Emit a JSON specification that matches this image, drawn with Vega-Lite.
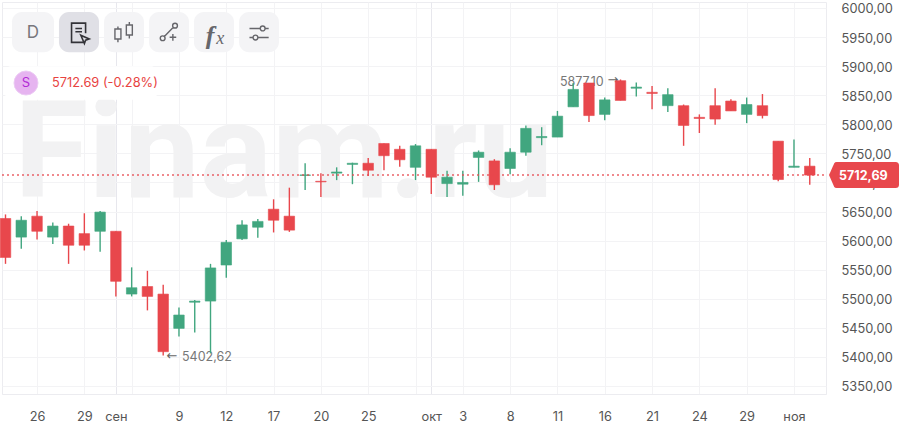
{
"$schema":"https://vega.github.io/schema/vega-lite/v6.json",
"width":824,"height":392,
"autosize":"none",
"padding":{"left":2,"top":2,"right":76,"bottom":32},
"background":"#ffffff",
"view":{"stroke":"#ececf0","strokeWidth":1},
"config":{"font":"Inter"},
"datasets":{
"candles":[
{"i":0,"open":5638,"high":5645,"low":5560,"close":5571},
{"i":1,"open":5606,"high":5642,"low":5586,"close":5635},
{"i":2,"open":5642,"high":5651,"low":5602,"close":5616},
{"i":3,"open":5606,"high":5631,"low":5594,"close":5625},
{"i":4,"open":5625,"high":5629,"low":5560,"close":5592},
{"i":5,"open":5612,"high":5647,"low":5583,"close":5592},
{"i":6,"open":5616,"high":5651,"low":5581,"close":5649},
{"i":7,"open":5616,"high":5616,"low":5504,"close":5530},
{"i":8,"open":5508,"high":5554,"low":5504,"close":5519},
{"i":9,"open":5521,"high":5548,"low":5480,"close":5504},
{"i":10,"open":5508,"high":5524,"low":5402.62,"close":5409},
{"i":11,"open":5449,"high":5485,"low":5435,"close":5472},
{"i":12,"open":5494,"high":5498,"low":5442,"close":5496},
{"i":13,"open":5496,"high":5560,"low":5406,"close":5553},
{"i":14,"open":5558,"high":5601,"low":5536,"close":5597},
{"i":15,"open":5603,"high":5635,"low":5601,"close":5627},
{"i":16,"open":5623,"high":5637,"low":5605,"close":5633},
{"i":17,"open":5654,"high":5671,"low":5614,"close":5635},
{"i":18,"open":5642,"high":5691,"low":5615,"close":5618},
{"i":19,"open":5712,"high":5733,"low":5687,"close":5713},
{"i":20,"open":5702,"high":5716,"low":5675,"close":5701},
{"i":21,"open":5716,"high":5726,"low":5704,"close":5718},
{"i":22,"open":5731,"high":5734,"low":5697,"close":5733},
{"i":23,"open":5733,"high":5742,"low":5711,"close":5721},
{"i":24,"open":5767,"high":5767,"low":5721,"close":5746},
{"i":25,"open":5757,"high":5763,"low":5727,"close":5739},
{"i":26,"open":5726,"high":5766,"low":5704,"close":5763},
{"i":27,"open":5757,"high":5757,"low":5680,"close":5709},
{"i":28,"open":5698,"high":5720,"low":5675,"close":5709},
{"i":29,"open":5697,"high":5720,"low":5677,"close":5700},
{"i":30,"open":5743,"high":5755,"low":5701,"close":5752},
{"i":31,"open":5737,"high":5740,"low":5687,"close":5696},
{"i":32,"open":5724,"high":5759,"low":5714,"close":5752},
{"i":33,"open":5752,"high":5798,"low":5746,"close":5793},
{"i":34,"open":5777,"high":5795,"low":5764,"close":5779},
{"i":35,"open":5778,"high":5823,"low":5778,"close":5814},
{"i":36,"open":5830,"high":5871,"low":5830,"close":5860},
{"i":37,"open":5871,"high":5871,"low":5804,"close":5815},
{"i":38,"open":5817,"high":5846,"low":5807,"close":5842},
{"i":39,"open":5875,"high":5877.1,"low":5841,"close":5841},
{"i":40,"open":5862,"high":5872,"low":5848,"close":5864},
{"i":41,"open":5855,"high":5866,"low":5826,"close":5853},
{"i":42,"open":5832,"high":5862,"low":5821,"close":5851},
{"i":43,"open":5832,"high":5834,"low":5763,"close":5798},
{"i":44,"open":5812,"high":5817,"low":5785,"close":5810},
{"i":45,"open":5832,"high":5862,"low":5799,"close":5809},
{"i":46,"open":5840,"high":5843,"low":5823,"close":5823},
{"i":47,"open":5817,"high":5846,"low":5802,"close":5834},
{"i":48,"open":5832,"high":5852,"low":5810,"close":5815},
{"i":49,"open":5771,"high":5771,"low":5702,"close":5705},
{"i":50,"open":5726,"high":5774,"low":5726,"close":5728},
{"i":51,"open":5728,"high":5742,"low":5696,"close":5712.69}
]},
"encoding":{
"x":{"field":"i","type":"quantitative","title":null,
"scale":{"domain":[-0.222,52.03],"nice":false,"zero":false,"padding":0},
"axis":{"values":[2,5,7,8,11,14,17,20,23,26,27,29,32,35,38,41,44,47,50],
"labelExpr":"({2:'26',5:'29',7:'сен',11:'9',14:'12',17:'17',20:'20',23:'25',27:'окт',29:'3',32:'8',35:'11',38:'16',41:'21',44:'24',47:'29',50:'ноя'})[datum.value]||''",
"grid":true,"gridColor":{"condition":{"test":"datum.value==7||datum.value==27","value":"#e7e7ed"},"value":"#f3f3f5"},
"ticks":false,"domain":true,"domainColor":"#ececf0","labelColor":"#555555","labelFontSize":12.8,"labelFont":"Inter","labelPadding":16,"labelFlush":false,"labelOverlap":false}},
"y":{"field":"price","type":"quantitative","title":null,
"scale":{"domain":[5336.2,6010.3],"nice":false,"zero":false,"padding":0},
"axis":{"orient":"right","values":[5350,5400,5450,5500,5550,5600,5650,5700,5750,5800,5850,5900,5950,6000],
"labelExpr":"replace(format(datum.value,'.2f'),'.',',')",
"grid":true,"gridColor":"#f3f3f5","ticks":false,"domain":false,"labelColor":"#555555","labelFontSize":12.8,"labelFont":"Inter","labelPadding":15,"labelOffset":1,"labelOverlap":false,"labelFlush":false}}
},
"layer":[
{"data":{"values":[{"i":0.55,"price":5675,"label":"Finam.ru"}]},
 "mark":{"type":"text","align":"left","baseline":"alphabetic","fontSize":135,"fontWeight":"bold","font":"Roboto","color":"#f2f2f3"},
 "encoding":{"text":{"field":"label"}}},
{"data":{"values":[{"i":-0.03,"i2":9.6,"price":5900,"price2":5842}]},
 "mark":{"type":"rect","color":"#ffffff","cornerRadius":6},
 "encoding":{"x2":{"field":"i2"},"y2":{"field":"price2"}}},
{"data":{"values":[
 {"i":0.41,"i2":3.08,"price":5993,"price2":5924,"b":"D"},
 {"i":6.25,"i2":8.78,"price":5993,"price2":5924,"b":"candle"},
 {"i":9.10,"i2":11.64,"price":5993,"price2":5924,"b":"draw"},
 {"i":11.95,"i2":14.49,"price":5993,"price2":5924,"b":"fx"},
 {"i":14.81,"i2":17.34,"price":5993,"price2":5924,"b":"settings"}]},
 "mark":{"type":"rect","color":"#f4f4f6","cornerRadius":10},
 "encoding":{"x2":{"field":"i2"},"y2":{"field":"price2"}}},
{"data":{"values":[{"i":3.39,"i2":5.93,"price":5993,"price2":5924,"b":"notes"}]},
 "mark":{"type":"rect","color":"#e0e0e6","cornerRadius":10},
 "encoding":{"x2":{"field":"i2"},"y2":{"field":"price2"}}},
{"data":{"values":[{"i":1.74,"price":5957,"label":"D"}]},
 "mark":{"type":"text","fontSize":17,"font":"Inter","color":"#77777c","align":"center","baseline":"middle"},
 "encoding":{"text":{"field":"label"}}},
{"data":{"values":[{"i":4.66,"price":5957}]},
 "mark":{"type":"point","filled":false,"stroke":"#333338","strokeWidth":1.6,"opacity":1,"size":576,
 "shape":"M0.35,0.78 L-0.62,0.78 L-0.62,-0.82 L0.55,-0.82 L0.55,0.02 M-0.3,-0.38 L0.25,-0.38 M-0.3,-0.1 L0.25,-0.1 M0.15,0.18 L0.85,0.5 L0.55,0.6 L0.45,0.88 Z"}},
{"data":{"values":[{"i":7.51,"price":5957}]},
 "mark":{"type":"point","filled":false,"stroke":"#66666b","strokeWidth":1.4,"opacity":1,"size":576,
 "shape":"M-0.75,-0.33 L-0.25,-0.33 L-0.25,0.5 L-0.75,0.5 Z M-0.5,-0.55 L-0.5,-0.33 M-0.5,0.5 L-0.5,0.78 M0.2,-0.67 L0.7,-0.67 L0.7,0.17 L0.2,0.17 Z M0.45,-0.92 L0.45,-0.67 M0.45,0.17 L0.45,0.45"}},
{"data":{"values":[{"i":10.37,"price":5957}]},
 "mark":{"type":"point","filled":false,"stroke":"#66666b","strokeWidth":1.4,"opacity":1,"size":576,
 "shape":"M-0.73,0.44 A0.2,0.2 0 1,1 -0.33,0.44 A0.2,0.2 0 1,1 -0.73,0.44 Z M0.3,-0.61 A0.2,0.2 0 1,1 0.7,-0.61 A0.2,0.2 0 1,1 0.3,-0.61 Z M-0.39,0.3 L0.36,-0.47 M0.05,0.36 L0.6,0.36 M0.32,0.08 L0.32,0.64"}},
{"data":{"values":[{"i":12.97,"price":5952,"label":"f"}]},
 "mark":{"type":"text","fontSize":26,"font":"Liberation Serif","fontStyle":"italic","fontWeight":"bold","color":"#66666b","align":"center","baseline":"middle"},
 "encoding":{"text":{"field":"label"}}},
{"data":{"values":[{"i":13.62,"price":5947,"label":"x"}]},
 "mark":{"type":"text","fontSize":18,"font":"Liberation Serif","fontStyle":"italic","color":"#66666b","align":"center","baseline":"middle"},
 "encoding":{"text":{"field":"label"}}},
{"data":{"values":[{"i":16.08,"price":5957}]},
 "mark":{"type":"point","filled":false,"stroke":"#66666b","strokeWidth":1.4,"opacity":1,"size":576,
 "shape":"M-0.8,-0.38 L0.1,-0.38 M0.5,-0.38 L0.8,-0.38 M0.1,-0.38 A0.2,0.2 0 1,1 0.5,-0.38 A0.2,0.2 0 1,1 0.1,-0.38 Z M-0.8,0.38 L-0.5,0.38 M-0.1,0.38 L0.8,0.38 M-0.5,0.38 A0.2,0.2 0 1,1 -0.1,0.38 A0.2,0.2 0 1,1 -0.5,0.38 Z"}},
{"data":{"values":[{"i":1.30,"price":5871}]},
 "mark":{"type":"point","shape":"circle","filled":true,"size":576,"fill":"#e6b4f0","stroke":"#eccbf4","strokeWidth":1,"opacity":1}},
{"data":{"values":[{"i":1.30,"price":5871,"label":"S"}]},
 "mark":{"type":"text","fontSize":13,"font":"Inter","color":"#b32bd6","align":"center","baseline":"middle"},
 "encoding":{"text":{"field":"label"}}},
{"data":{"values":[{"i":2.95,"price":5871,"label":"5712.69  (-0.28%)"}]},
 "mark":{"type":"text","fontSize":12.8,"font":"Inter","color":"#e8433f","align":"left","baseline":"middle"},
 "encoding":{"text":{"field":"label"}}},
{"data":{"values":[{"i":11.19,"price":5400,"label":"5402,62"},{"i":35.16,"price":5873,"label":"5877,10"}]},
 "mark":{"type":"text","fontSize":12.5,"font":"Inter","color":"#777777","align":"left","baseline":"middle"},
 "encoding":{"text":{"field":"label"}}},
{"data":{"values":[{"i":10.56,"price":5402,"label":"←"},{"i":38.52,"price":5876,"label":"→"}]},
 "mark":{"type":"text","fontSize":13,"font":"DejaVu Sans","color":"#666666","align":"center","baseline":"middle"},
 "encoding":{"text":{"field":"label"}}},
{"data":{"name":"candles"},
 "mark":{"type":"rule","strokeWidth":1.4},
 "encoding":{"y":{"field":"low","type":"quantitative"},"y2":{"field":"high"},
 "color":{"condition":{"test":"datum.close>=datum.open","value":"#41a67f"},"value":"#e8474c"}}},
{"data":{"name":"candles"},
 "mark":{"type":"bar","size":10.5,"strokeWidth":1,"strokeOpacity":0.6},
 "encoding":{"y":{"field":"open","type":"quantitative"},"y2":{"field":"close"},
 "fill":{"condition":{"test":"datum.close>=datum.open","value":"#41a67f"},"value":"#e8474c"},
 "stroke":{"condition":{"test":"datum.close>=datum.open","value":"#41a67f"},"value":"#e8474c"}}},
{"data":{"values":[{"i":-0.222,"i2":52.03,"price":5712.69}]},
 "mark":{"type":"rule","color":"#e8474c","strokeDash":[2,3],"strokeWidth":1.4,"opacity":0.85},
 "encoding":{"x2":{"field":"i2"}}},
{"data":{"values":[{"i":54.44,"price":5712.69}]},
 "mark":{"type":"point","filled":true,"fill":"#e8474c","stroke":null,"opacity":1,"size":4900,
 "shape":"M-1,0 L-0.85,-0.34 Q-0.83,-0.37 -0.78,-0.37 L0.9,-0.37 Q1,-0.37 1,-0.27 L1,0.27 Q1,0.37 0.9,0.37 L-0.78,0.37 Q-0.83,0.37 -0.85,0.34 Z"}},
{"data":{"values":[{"i":54.4,"price":5711.5,"label":"5712,69"}]},
 "mark":{"type":"text","fontSize":12.5,"fontWeight":"bold","font":"Inter","color":"#ffffff","align":"center","baseline":"middle"},
 "encoding":{"text":{"field":"label"}}}
]
}
